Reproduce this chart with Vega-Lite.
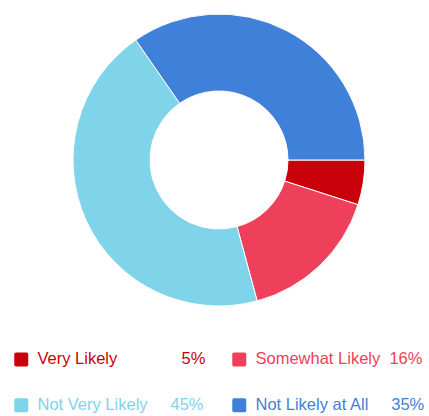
{
  "$schema": "https://vega.github.io/schema/vega-lite/v6.json",
  "width": 430,
  "height": 316,
  "padding": {"left": 4, "top": 2, "right": 0, "bottom": 0},
  "background": "white",
  "config": {"view": {"stroke": null}, "font": "Liberation Sans"},
  "data": {
    "values": [
      {"Response": "Very Likely", "Percent": 5},
      {"Response": "Somewhat Likely", "Percent": 16},
      {"Response": "Not Very Likely", "Percent": 45},
      {"Response": "Not Likely at All", "Percent": 35}
    ]
  },
  "mark": {"type": "arc", "outerRadius": 146, "innerRadius": 69, "stroke": "white", "strokeWidth": 1},
  "encoding": {
    "theta": {"field": "Percent", "type": "quantitative", "stack": true, "scale": {"range": [7.8539816, 1.5707963]}},
    "color": {
      "field": "Response",
      "type": "nominal",
      "sort": ["Very Likely", "Somewhat Likely", "Not Very Likely", "Not Likely at All"],
      "scale": {
        "domain": ["Very Likely", "Somewhat Likely", "Not Very Likely", "Not Likely at All"],
        "range": ["#c8000a", "#ef405b", "#80d4e9", "#3f80d9"]
      },
      "legend": {
        "title": null,
        "orient": "none",
        "legendX": 9,
        "legendY": 349,
        "direction": "horizontal",
        "columns": 2,
        "padding": 0,
        "columnPadding": 25,
        "rowPadding": 29,
        "symbolType": "M -0.75 -1 H 0.75 Q 1 -1 1 -0.75 V 0.75 Q 1 1 0.75 1 H -0.75 Q -1 1 -1 0.75 V -0.75 Q -1 -1 -0.75 -1 Z",
        "symbolSize": 196,
        "symbolStrokeWidth": 0,
        "labelFont": "Liberation Sans",
        "labelFontSize": 16.5,
        "labelOffset": 8,
        "labelLimit": 300,
        "labelColor": {"expr": "scale('color', datum.value)"},
        "labelExpr": "{'Very Likely': 'Very Likely\u00a0\u00a0\u00a0\u00a0\u00a0\u00a0\u00a0\u00a0\u00a0\u00a0\u00a0\u00a0\u00a0\u00a05%', 'Somewhat Likely': 'Somewhat Likely\u00a0\u00a016%', 'Not Very Likely': 'Not Very Likely\u00a0\u00a0\u00a0\u00a0\u00a045%', 'Not Likely at All': 'Not Likely at All\u00a0\u00a0\u00a0\u00a0\u00a035%'}[datum.label]"
      }
    }
  }
}
